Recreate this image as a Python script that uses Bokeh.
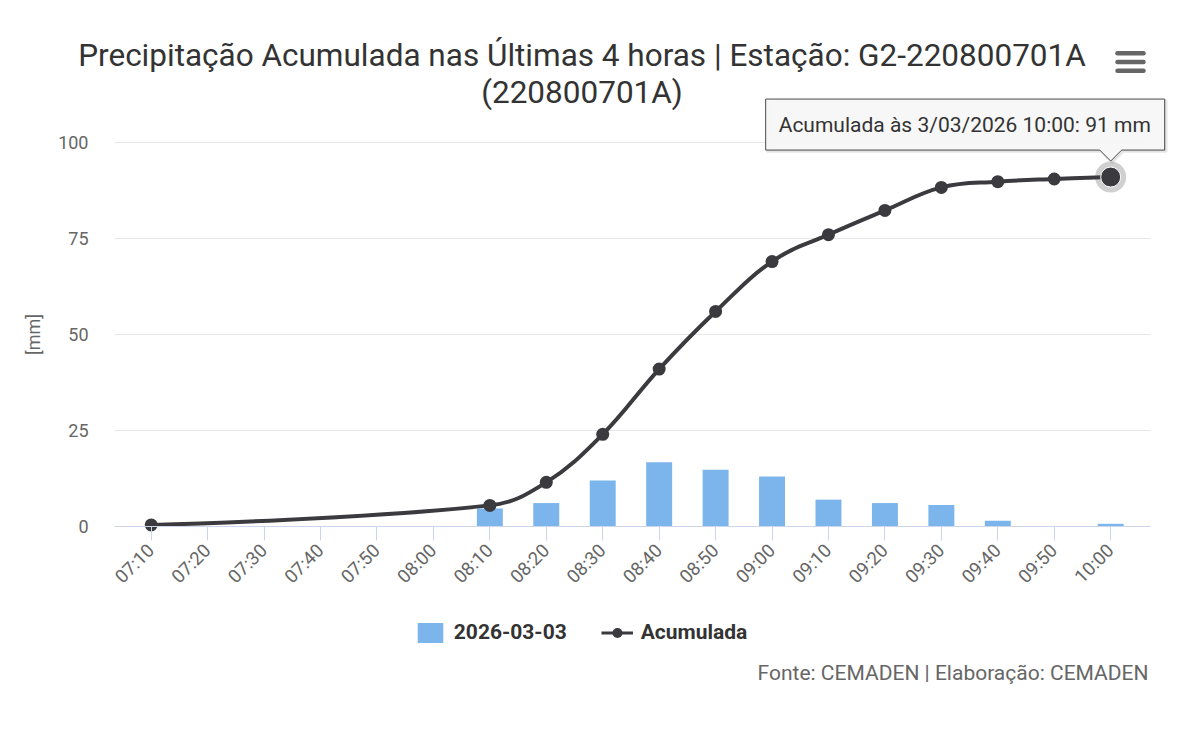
import math
from bokeh.plotting import figure
from bokeh.models import Range1d, FixedTicker, Label, Legend, LegendItem
from bokeh.embed import file_html
from bokeh.resources import INLINE

# ---------------- data ----------------
categories = ["07:10", "07:20", "07:30", "07:40", "07:50", "08:00", "08:10", "08:20",
              "08:30", "08:40", "08:50", "09:00", "09:10", "09:20", "09:30", "09:40",
              "09:50", "10:00"]
chuva_10min = [None, None, None, None, None, None, 4.7, 6.1, 12.0, 16.7, 14.8, 13.0,
               7.0, 6.1, 5.6, 1.5, 0.0, 0.7]
acumulada = [0.4, None, None, None, None, None, 5.5, 11.5, 24.0, 41.0, 56.0, 69.0,
             76.0, 82.3, 88.3, 89.8, 90.5, 91.0]
y_ticks = [0, 25, 50, 75, 100]
series_bar_name = "2026-03-03"
series_line_name = "Acumulada"
title_line1 = "Precipitação Acumulada nas Últimas 4 horas | Estação: G2-220800701A"
title_line2 = "(220800701A)"
y_label = "[mm]"
credits = "Fonte: CEMADEN | Elaboração: CEMADEN"
tooltip_date = "3/03/2026"

# ---------------- layout constants (pixels) ----------------
W, H = 1200, 730
PLOT_L, PLOT_R = 114, 1150           # plot area
Y0_PX, Y100_PX = 526, 142            # pixel rows of y=0 and y=100
X_FIRST_PX, X_STEP_PX = 150.7, 56.44
PX_PER_Y = (Y0_PX - Y100_PX) / 100.0

def dx(px):
    return (px - X_FIRST_PX) / X_STEP_PX

def dy(py):
    return (Y0_PX - py) / PX_PER_Y

def px_of_x(x):
    return X_FIRST_PX + x * X_STEP_PX

def py_of_y(y):
    return Y0_PX - y * PX_PER_Y

BAR_COLOR = "#7cb5ec"
LINE_COLOR = "#3b3b3f"
TEXT_DARK = "#333333"
TEXT_GRAY = "#666666"
FONT = "Roboto"

# one figure whose drawing frame is the whole canvas; axes are pinned at the
# plot-area edges so that titles, tooltip, legend and credits are not clipped
p = figure(width=W, height=H,
           x_range=Range1d(dx(0), dx(W)), y_range=Range1d(dy(H), dy(0)),
           min_border=0, output_backend="svg", toolbar_location=None, tools="")
p.outline_line_color = None
p.background_fill_color = "white"
p.border_fill_color = "white"

xs = list(range(len(categories)))
p.xaxis.fixed_location = 0
p.xaxis.bounds = (dx(PLOT_L), dx(PLOT_R))
p.xaxis.ticker = FixedTicker(ticks=xs)
p.xaxis.major_label_overrides = {i: c for i, c in enumerate(categories)}
p.xaxis.major_label_orientation = math.pi / 4
p.xaxis.major_label_text_font = FONT
p.xaxis.major_label_text_font_size = "18.5px"
p.xaxis.major_label_text_color = TEXT_GRAY
p.xaxis.axis_line_color = "#ccd6eb"
p.xaxis.major_tick_line_color = "#ccd6eb"
p.xaxis.major_tick_out = 14
p.xaxis.major_tick_in = 0
p.xaxis.minor_tick_line_color = None
p.xaxis.major_label_standoff = 7

p.yaxis.fixed_location = dx(PLOT_L)
p.yaxis.bounds = (y_ticks[0], y_ticks[-1])
p.yaxis.ticker = FixedTicker(ticks=y_ticks)
p.yaxis.axis_line_color = None
p.yaxis.major_tick_line_color = None
p.yaxis.minor_tick_line_color = None
p.yaxis.major_tick_out = 0
p.yaxis.major_tick_in = 0
p.yaxis.major_label_standoff = 26
p.yaxis.major_label_text_font = FONT
p.yaxis.major_label_text_font_size = "18px"
p.yaxis.major_label_text_color = TEXT_GRAY

p.xgrid.grid_line_color = None
p.ygrid.grid_line_color = "#e6e6e6"
p.ygrid.grid_line_width = 1
p.ygrid.cross_bounds = (dx(PLOT_L), dx(PLOT_R))

p.add_layout(Label(x=dx(33), y=dy((Y0_PX + Y100_PX) / 2), text=y_label, angle=math.pi / 2,
                   text_font=FONT, text_font_size="18px", text_color=TEXT_GRAY,
                   text_align="center", text_baseline="middle"))

# bars
bar_top = [float("nan") if v is None else v for v in chuva_10min]
bars = p.vbar(x=xs, top=bar_top, bottom=0, width=0.46, fill_color=BAR_COLOR, line_color=None)

# spline (Highcharts-like smoothing), nulls connected
pts = [(x, y) for x, y in zip(xs, acumulada) if y is not None]
smoothing = 1.5
denom = smoothing + 1
ctrl = []
for i, (x, y) in enumerate(pts):
    if 0 < i < len(pts) - 1:
        lx, ly = pts[i - 1]
        nx, ny = pts[i + 1]
        lcx = (smoothing * x + lx) / denom
        lcy = (smoothing * y + ly) / denom
        rcx = (smoothing * x + nx) / denom
        rcy = (smoothing * y + ny) / denom
        corr = 0.0
        if rcx != lcx:
            corr = (rcy - lcy) * (rcx - x) / (rcx - lcx) + y - rcy
        lcy += corr
        rcy += corr
        if lcy > ly and lcy > y:
            lcy = max(ly, y); rcy = 2 * y - lcy
        elif lcy < ly and lcy < y:
            lcy = min(ly, y); rcy = 2 * y - lcy
        if rcy > ny and rcy > y:
            rcy = max(ny, y); lcy = 2 * y - rcy
        elif rcy < ny and rcy < y:
            rcy = min(ny, y); lcy = 2 * y - rcy
        ctrl.append(((lcx, lcy), (rcx, rcy)))
    else:
        ctrl.append(((x, y), (x, y)))

seg = dict(x0=[], y0=[], x1=[], y1=[], cx0=[], cy0=[], cx1=[], cy1=[])
for i in range(1, len(pts)):
    seg["x0"].append(pts[i - 1][0]); seg["y0"].append(pts[i - 1][1])
    seg["x1"].append(pts[i][0]); seg["y1"].append(pts[i][1])
    seg["cx0"].append(ctrl[i - 1][1][0]); seg["cy0"].append(ctrl[i - 1][1][1])
    seg["cx1"].append(ctrl[i][0][0]); seg["cy1"].append(ctrl[i][0][1])

curve = p.bezier(x0="x0", y0="y0", x1="x1", y1="y1", cx0="cx0", cy0="cy0",
                 cx1="cx1", cy1="cy1", source=seg,
                 line_color=LINE_COLOR, line_width=4, line_cap="round")
markers = p.scatter([q[0] for q in pts], [q[1] for q in pts], size=13,
                    fill_color=LINE_COLOR, line_color=None)
# legend symbol for the line (draws nothing in the chart)
legend_line = p.line(x=[float("nan")], y=[float("nan")], line_color=LINE_COLOR, line_width=3)

# hovered last point: halo + enlarged marker
last_x, last_y = pts[-1]
p.scatter([last_x], [last_y], size=31, fill_color="#434348", fill_alpha=0.25, line_color=None)
p.scatter([last_x], [last_y], size=20, fill_color=LINE_COLOR, line_color="white", line_width=1)

# ---------------- tooltip callout ----------------
apx, apy = px_of_x(last_x), py_of_y(last_y)
box_l, box_r = apx - 345, apx + 54
box_t, box_b = apy - 78, apy - 27
tip_y = apy - 16
half = 11
cx_px = [box_l, box_r, box_r, apx + half, apx, apx - half, box_l]
cy_px = [box_t, box_t, box_b, box_b, tip_y, box_b, box_b]
p.patch([dx(v + 1.5) for v in cx_px], [dy(v + 1.5) for v in cy_px],
        fill_color="black", fill_alpha=0.06, line_color="black",
        line_alpha=0.08, line_width=3)
p.patch([dx(v) for v in cx_px], [dy(v) for v in cy_px],
        fill_color="#f7f7f7", fill_alpha=0.95, line_color="#4a4a4e", line_width=1)
tooltip_text = f"{series_line_name} às {tooltip_date} {categories[last_x]}: {last_y:.0f} mm"
p.add_layout(Label(x=dx(box_l + 13), y=dy((box_t + box_b) / 2), text=tooltip_text,
                   text_font=FONT, text_font_size="21px", text_color=TEXT_DARK,
                   text_baseline="middle", text_align="left"))

# ---------------- title and menu icon ----------------
p.add_layout(Label(x=dx(581.5), y=dy(55), text=title_line1, text_font=FONT,
                   text_font_size="31.5px", text_color=TEXT_DARK,
                   text_align="center", text_baseline="middle"))
p.add_layout(Label(x=dx(581.5), y=dy(92), text=title_line2, text_font=FONT,
                   text_font_size="31.5px", text_color=TEXT_DARK,
                   text_align="center", text_baseline="middle"))
menu_y = [52.7, 61.5, 70.3]
p.segment(x0=[dx(1117)] * 3, y0=[dy(v) for v in menu_y],
          x1=[dx(1143)] * 3, y1=[dy(v) for v in menu_y],
          line_color=TEXT_GRAY, line_width=4.5, line_cap="round")

# ---------------- legend and credits ----------------
legend = Legend(items=[LegendItem(label=series_bar_name, renderers=[bars]),
                       LegendItem(label=series_line_name, renderers=[legend_line, markers])],
                orientation="horizontal",
                location=(413.8, H - 644.5),
                glyph_width=32, glyph_height=25, label_standoff=8, spacing=34,
                padding=0, margin=0,
                background_fill_alpha=0, border_line_color=None,
                label_text_font=FONT, label_text_font_size="21px",
                label_text_font_style="bold", label_text_color=TEXT_DARK)
p.add_layout(legend)
p.add_layout(Label(x=dx(1148), y=dy(672), text=credits, text_font=FONT,
                   text_font_size="21px", text_color=TEXT_GRAY,
                   text_align="right", text_baseline="middle"))

open("out.html", "w").write(file_html(p, INLINE))
